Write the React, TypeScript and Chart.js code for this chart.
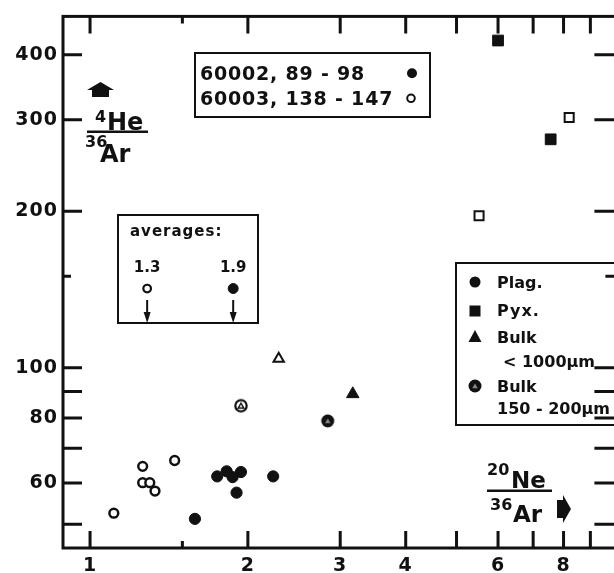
import React, { useEffect, useRef } from 'react';
import { Chart, registerables } from 'chart.js';
Chart.register(...registerables);

// ---- data ----
const plag60002X = [1.585, 1.748, 1.822, 1.870, 1.940, 1.903, 2.235];
const plag60002Y = [51.2, 61.8, 63.2, 61.6, 63.0, 57.5, 61.8];
const plag60003X = [1.11, 1.26, 1.26, 1.30, 1.33, 1.45];
const plag60003Y = [52.5, 64.6, 60.1, 60.1, 57.9, 66.3];
const pyx60002X = [6.0, 7.56];
const pyx60002Y = [426, 275];
const pyx60003X = [5.52, 8.2];
const pyx60003Y = [196, 303];
const bulkCoarse60002X = [3.17];
const bulkCoarse60002Y = [89];
const bulkCoarse60003X = [2.29];
const bulkCoarse60003Y = [104];
const bulkFine60002X = [2.84];
const bulkFine60002Y = [79];
const bulkFine60003X = [1.94];
const bulkFine60003Y = [84.5];
const averageX = [1.285, 1.875];
const averageY = [142, 142];
const averageLabels = ['1.3', '1.9'];

const xTickValues = [1, 1.5, 2, 3, 4, 5, 6, 7, 8, 9];
const xTickLabels = ['1', '', '2', '3', '4', '', '6', '', '8', ''];
const xShortTicks = [1.5];
const yTickValues = [50, 60, 70, 80, 90, 100, 150, 200, 300, 400];
const yTickLabels = ['', '60', '', '80', '', '100', '', '200', '300', '400'];
const yShortTicks = [150];

const X_MIN = 0.888;
const X_MAX = 10.09;
const Y_MIN = 45;
const Y_MAX = 474;

const INK = '#111';
const FAM = '"DejaVu Sans"';

function makeCircTri(filled: boolean): HTMLCanvasElement {
  const c = document.createElement('canvas');
  c.width = 16;
  c.height = 16;
  const g = c.getContext('2d')!;
  g.beginPath();
  g.arc(8, 8, filled ? 6.5 : 5.7, 0, Math.PI * 2);
  if (filled) {
    g.fillStyle = INK;
    g.fill();
  } else {
    g.fillStyle = '#fff';
    g.fill();
    g.lineWidth = 2.2;
    g.strokeStyle = INK;
    g.stroke();
  }
  g.beginPath();
  const r = 3.2;
  for (let i = 0; i < 3; i++) {
    const a = -Math.PI / 2 + (i * 2 * Math.PI) / 3;
    const px = 8 + Math.cos(a) * r;
    const py = 8.6 + Math.sin(a) * r;
    if (i === 0) g.moveTo(px, py);
    else g.lineTo(px, py);
  }
  g.closePath();
  if (filled) {
    g.fillStyle = '#888';
    g.fill();
  } else {
    g.lineWidth = 1.4;
    g.strokeStyle = INK;
    g.stroke();
  }
  return c;
}

const pts = (xs: number[], ys: number[]) => xs.map((x, i) => ({ x, y: ys[i] }));

export default function App() {
  const ref = useRef<HTMLCanvasElement>(null);

  useEffect(() => {
    const canvas = ref.current!;
    const circTriOpen = makeCircTri(false);
    const circTriFilled = makeCircTri(true);

    const txt = (c: CanvasRenderingContext2D, s: string, x: number, y: number, font: string, align: CanvasTextAlign = 'left', spacing = 0) => {
      c.font = font;
      c.textAlign = align;
      c.textBaseline = 'alphabetic';
      (c as any).letterSpacing = spacing + 'px';
      c.fillStyle = INK;
      c.fillText(s, x, y);
      (c as any).letterSpacing = '0px';
    };

    const decor = {
      id: 'decor',
      beforeDraw(chart: any) {
        (chart.ctx as any).letterSpacing = '1px';
      },
      afterDraw(chart: any) {
        const { ctx: c, chartArea: a, scales } = chart;
        (c as any).letterSpacing = '0px';
        const xs = scales.x;
        const ys = scales.y;
        c.save();
        c.strokeStyle = INK;
        c.fillStyle = INK;
        c.lineCap = 'butt';
        // frame
        c.lineWidth = 3;
        c.strokeRect(a.left, a.top, a.right - a.left, a.bottom - a.top);
        // inward ticks
        for (const v of xTickValues) {
          const px = xs.getPixelForValue(v);
          const len = xShortTicks.includes(v) ? 7 : 17;
          c.beginPath();
          c.moveTo(px, a.bottom);
          c.lineTo(px, a.bottom - len);
          c.moveTo(px, a.top);
          c.lineTo(px, a.top + len);
          c.stroke();
        }
        for (const v of yTickValues) {
          const py = ys.getPixelForValue(v);
          const len = yShortTicks.includes(v) ? 8 : 19;
          c.beginPath();
          c.moveTo(a.left, py);
          c.lineTo(a.left + len, py);
          c.moveTo(a.right, py);
          c.lineTo(a.right - len - 3, py);
          c.stroke();
        }

        // y-axis label 4He / 36Ar with arrow
        c.beginPath();
        c.moveTo(87, 90);
        c.lineTo(100.5, 82);
        c.lineTo(114, 90);
        c.lineTo(109, 90);
        c.lineTo(109, 97);
        c.lineTo(92, 97);
        c.lineTo(92, 90);
        c.closePath();
        c.fill();
        txt(c, '4', 95, 122, `bold 16px ${FAM}`);
        txt(c, 'He', 107, 130, `bold 24px ${FAM}`);
        c.fillRect(87, 130.5, 61, 2.5);
        txt(c, '36', 85, 147, `bold 16px ${FAM}`);
        txt(c, 'Ar', 100, 162, `bold 24px ${FAM}`);

        // x-axis label 20Ne / 36Ar with arrow
        txt(c, '20', 487, 475, `bold 16px ${FAM}`);
        txt(c, 'Ne', 511, 488, `bold 23px ${FAM}`);
        c.fillRect(487, 489.5, 65, 2.5);
        txt(c, '36', 490, 510, `bold 16px ${FAM}`);
        txt(c, 'Ar', 513, 522, `bold 23px ${FAM}`);
        c.beginPath();
        c.moveTo(557, 500);
        c.lineTo(563, 500);
        c.lineTo(563, 495);
        c.lineTo(571, 509);
        c.lineTo(563, 523);
        c.lineTo(563, 518);
        c.lineTo(557, 518);
        c.closePath();
        c.fill();

        // sample legend box
        c.lineWidth = 2;
        c.strokeRect(195, 53, 235, 64);
        txt(c, '60002, 89 - 98', 200, 79.5, `bold 19px ${FAM}`, 'left', 0.8);
        txt(c, '60003, 138 - 147', 200, 105, `bold 19px ${FAM}`, 'left', 0.8);
        c.beginPath();
        c.arc(412, 73.3, 5, 0, Math.PI * 2);
        c.fill();
        c.beginPath();
        c.arc(411, 98.3, 3.8, 0, Math.PI * 2);
        c.lineWidth = 2;
        c.stroke();

        // averages box
        c.lineWidth = 2;
        c.strokeRect(118, 215, 140, 108);
        txt(c, 'averages:', 130, 236, `bold 15px ${FAM}`, 'left', 1);
        averageX.forEach((v, i) => {
          const px = xs.getPixelForValue(v);
          txt(c, averageLabels[i], px, 271.5, `bold 15px ${FAM}`, 'center');
          c.lineWidth = 2;
          c.beginPath();
          c.moveTo(px, 300);
          c.lineTo(px, 314);
          c.stroke();
          c.beginPath();
          c.moveTo(px - 3.5, 312);
          c.lineTo(px + 3.5, 312);
          c.lineTo(px, 323);
          c.closePath();
          c.fill();
        });

        // mineral legend box
        c.lineWidth = 2;
        c.strokeRect(456, 263, a.right - 456, 162);
        c.beginPath();
        c.arc(475, 282, 5.5, 0, Math.PI * 2);
        c.fill();
        c.fillRect(469.5, 305.5, 11, 11);
        c.beginPath();
        c.moveTo(475, 330);
        c.lineTo(481.5, 342);
        c.lineTo(468.5, 342);
        c.closePath();
        c.fill();
        c.drawImage(circTriFilled, 467, 378);
        txt(c, 'Plag.', 497, 288, `bold 16px ${FAM}`);
        txt(c, 'Pyx.', 497, 316, `bold 16px ${FAM}`, 'left', 1);
        txt(c, 'Bulk', 497, 343, `bold 16px ${FAM}`);
        txt(c, '< 1000µm', 503, 367, `bold 16px ${FAM}`);
        txt(c, 'Bulk', 497, 392, `bold 16px ${FAM}`);
        txt(c, '150 - 200µm', 497, 413.5, `bold 16px ${FAM}`);
        c.restore();
      },
    };

    const filled = { backgroundColor: INK, borderColor: INK, borderWidth: 1 };
    const open = { backgroundColor: '#fff', borderColor: INK, borderWidth: 2.5 };

    const chart = new Chart(canvas, {
      type: 'scatter',
      data: {
        datasets: [
          { label: 'Plag. 60002', data: pts(plag60002X, plag60002Y), pointStyle: 'circle', pointRadius: 5.6, ...filled },
          { label: 'Plag. 60003', data: pts(plag60003X, plag60003Y), pointStyle: 'circle', pointRadius: 4.4, ...open },
          { label: 'Pyx. 60002', data: pts(pyx60002X, pyx60002Y), pointStyle: 'rect', pointRadius: 7.6, ...filled },
          { label: 'Pyx. 60003', data: pts(pyx60003X, pyx60003Y), pointStyle: 'rect', pointRadius: 6.4, ...open, borderWidth: 2 },
          { label: 'Bulk <1000 60002', data: pts(bulkCoarse60002X, bulkCoarse60002Y), pointStyle: 'triangle', pointRadius: 7.2, ...filled },
          { label: 'Bulk <1000 60003', data: pts(bulkCoarse60003X, bulkCoarse60003Y), pointStyle: 'triangle', pointRadius: 6, ...open, borderWidth: 2 },
          { label: 'Bulk 150-200 60002', data: pts(bulkFine60002X, bulkFine60002Y), pointStyle: circTriFilled as any, pointRadius: 7, borderWidth: 0 },
          { label: 'Bulk 150-200 60003', data: pts(bulkFine60003X, bulkFine60003Y), pointStyle: circTriOpen as any, pointRadius: 7, borderWidth: 0 },
          { label: 'average 60003', data: [{ x: averageX[0], y: averageY[0] }], pointStyle: 'circle', pointRadius: 3.8, ...open, borderWidth: 2.2 },
          { label: 'average 60002', data: [{ x: averageX[1], y: averageY[1] }], pointStyle: 'circle', pointRadius: 5, ...filled },
        ] as any,
      },
      options: {
        responsive: false,
        animation: false,
        devicePixelRatio: 1,
        layout: { padding: { top: 15, right: 3, left: 0, bottom: 0 } },
        plugins: { legend: { display: false }, tooltip: { enabled: false } },
        scales: {
          x: {
            type: 'logarithmic',
            min: X_MIN,
            max: X_MAX,
            afterBuildTicks: (s: any) => {
              s.ticks = xTickValues.map((v) => ({ value: v }));
            },
            afterFit: (s: any) => {
              s.height = 25;
            },
            grid: { display: false, drawTicks: false },
            border: { display: false },
            ticks: {
              autoSkip: false,
              maxRotation: 0,
              padding: 7,
              color: INK,
              font: { family: 'DejaVu Sans', size: 19, weight: 'bold' },
              callback: (_v: any, i: number) => xTickLabels[i],
            },
          },
          y: {
            type: 'logarithmic',
            min: Y_MIN,
            max: Y_MAX,
            afterBuildTicks: (s: any) => {
              s.ticks = yTickValues.map((v) => ({ value: v }));
            },
            afterFit: (s: any) => {
              s.width = 63;
            },
            grid: { display: false, drawTicks: false },
            border: { display: false },
            ticks: {
              autoSkip: false,
              padding: 5,
              color: INK,
              font: { family: 'DejaVu Sans', size: 19, weight: 'bold' },
              callback: (_v: any, i: number) => yTickLabels[i],
            },
          },
        },
      } as any,
      plugins: [decor],
    });
    return () => chart.destroy();
  }, []);

  return (
    <div style={{ position: 'absolute', left: 0, top: 0, width: 614, height: 573, overflow: 'hidden', background: '#fff' }}>
      <canvas ref={ref} width={625} height={573} style={{ display: 'block' }} />
    </div>
  );
}
